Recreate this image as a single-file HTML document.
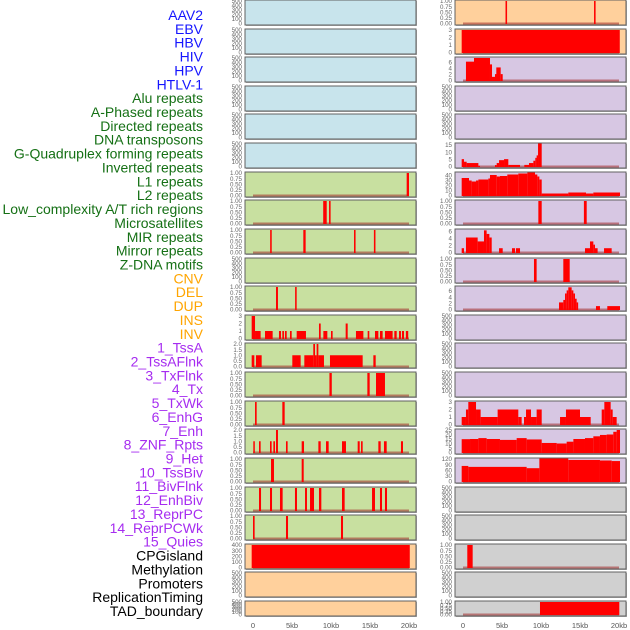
<!DOCTYPE html>
<html><head><meta charset="utf-8"><style>
html,body{margin:0;padding:0;background:#fff;}
svg{display:block;font-family:"Liberation Sans",sans-serif;}
</style></head><body>
<svg id="chart" width="630" height="630" viewBox="0 0 630 630" xmlns="http://www.w3.org/2000/svg"></svg>
<script>
// ---- labels ----
const trackLabels = ["AAV2","EBV","HBV","HIV","HPV","HTLV-1","Alu repeats","A-Phased repeats","Directed repeats","DNA transposons","G-Quadruplex forming repeats","Inverted repeats","L1 repeats","L2 repeats","Low_complexity A/T rich regions","Microsatellites","MIR repeats","Mirror repeats","Z-DNA motifs","CNV","DEL","DUP","INS","INV","1_TssA","2_TssAFlnk","3_TxFlnk","4_Tx","5_TxWk","6_EnhG","7_Enh","8_ZNF_Rpts","9_Het","10_TssBiv","11_BivFlnk","12_EnhBiv","13_ReprPC","14_ReprPCWk","15_Quies","CPGisland","Methylation","Promoters","ReplicationTiming","TAD_boundary"];
const labelGroups = [6,13,5,15,5];
const xTickLabels = ["0","5kb","10kb","15kb","20kb"];
const xTickValues = [0,5,10,15,20];

// ---- left column data [startKb, endKb, value] ----
const left6 = [[19.7,20.0,1]];
const left7 = [[9.0,9.45,1],[9.75,9.95,1]];
const left8 = [[2.2,2.4,1],[6.45,6.75,1],[12.95,13.15,1],[15.5,15.7,1]];
const left10 = [[2.95,3.2,1],[5.4,5.6,1]];
const left11 = [[-0.17,0.26,3],[0.26,0.98,1],[1.54,2.52,1],[3.33,3.59,1],[3.76,3.97,1],[4.1,4.32,1],[4.74,4.96,1],[5.6,6.79,1],[8.46,8.68,2],[9.02,9.53,1],[10.0,10.21,1],[11.88,12.14,2],[13.2,14.15,1],[14.7,14.91,1],[15.64,16.07,1],[16.28,16.62,1],[16.92,17.9,1],[18.12,18.42,1],[18.72,18.97,1],[19.1,19.36,1],[19.6,19.9,1]];
const left12 = [[-0.17,0.17,1],[0.38,1.11,1],[5.04,6.11,1],[6.58,7.73,1],[7.73,7.95,2],[7.95,8.16,1],[8.16,8.38,2],[8.38,9.1,1],[9.87,14.06,1],[15.43,15.73,1]];
const left13 = [[9.8,10.1,1],[14.66,14.96,1],[15.77,16.92,1]];
const left14 = [[0.26,0.47,1],[3.76,4.06,1]];
const left15 = [[0.04,0.21,1],[0.77,0.98,1],[2.18,2.39,1],[2.61,2.82,1],[2.95,3.2,2],[4.23,4.44,1],[6.24,6.54,1],[8.38,8.68,1],[9.36,9.7,1],[11.41,11.92,1],[13.42,13.68,1],[13.85,14.06,1],[16.07,16.37,1],[16.79,17.14,1],[18.97,19.23,1]];
const left16 = [[2.31,2.69,1],[6.24,6.5,1]];
const left17 = [[0.77,1.03,1],[2.18,2.44,1],[3.46,3.8,1],[5.38,5.64,1],[6.67,6.92,1],[7.31,7.82,1],[8.46,8.76,1],[11.41,11.75,1],[15.26,15.64,1],[16.28,16.54,1],[16.92,17.18,1]];
const left18 = [[0.0,0.21,1],[4.23,4.49,1],[11.28,11.54,1]];
const left19 = [[-0.17,20.1,400]];

// ---- right column data ----
const right0 = [[5.45,5.65,1],[16.8,17.0,1]];
const right1 = [[-0.17,20.1,3]];
const right2 = [[0.38,1.41,6.2],[1.41,3.46,7.4],[3.46,3.72,5.3],[3.72,4.1,1.2],[4.1,4.27,2.1],[4.27,4.83,4.3],[4.83,5.09,2.1]];
const right5 = [[-0.17,0.13,5.1],[0.13,0.47,3.3],[0.47,1.97,2.4],[1.97,2.18,0.5],[4.1,4.32,1],[4.32,4.62,2.4],[4.62,5.26,4.4],[5.26,5.81,5.1],[5.81,7.31,1.1],[7.86,8.46,1.1],[8.46,9.02,2.4],[9.02,9.27,4],[9.27,9.44,6],[9.44,9.62,7.7],[9.62,10.09,16]];
const right6 = [[-0.17,0.77,35],[0.77,1.11,30],[1.11,1.67,28],[1.67,1.97,30],[1.97,3.25,32],[3.25,3.46,34],[3.46,4.32,41],[4.32,4.74,38],[4.74,5.68,39],[5.68,7.09,42],[7.09,8.25,44],[8.25,9.23,46.5],[9.23,9.53,42],[9.53,9.79,38],[9.79,10.09,32],[10.09,13.5,4],[13.5,15.77,6],[15.77,16.71,4],[16.71,20.13,6]];
const right7 = [[9.66,10.09,1],[15.5,15.86,1]];
const right8 = [[-0.17,0.13,1.2],[0.38,1.88,4.2],[1.88,2.69,3.1],[2.69,3.03,6.2],[3.03,3.38,5.2],[3.38,3.68,4.2],[4.62,5.09,1.2],[6.28,6.67,1.2],[6.79,7.31,1.2],[15.64,16.28,1.2],[16.28,16.71,3.1],[16.71,16.92,2.2],[16.92,17.26,1.2],[18.08,19.06,1.2]];
const right9 = [[9.1,9.44,1],[12.86,13.68,1]];
const right10 = [[12.31,12.86,2.3],[12.86,13.08,3.1],[13.08,13.29,5.2],[13.29,13.5,6.2],[13.5,13.93,7.2],[13.93,14.15,6.2],[14.15,14.36,5.2],[14.36,14.57,3.5],[14.57,14.7,2.3],[17.05,17.56,1.1],[18.5,20.13,1.1]];
const right14 = [[-0.17,0.38,1],[0.38,0.68,2],[0.68,1.67,3],[1.67,2.26,2],[2.26,4.44,1],[4.44,7.09,2],[7.09,7.52,1],[7.82,8.08,1],[8.08,8.72,2],[8.72,9.44,1],[9.44,10.09,2],[12.44,13.2,1],[13.2,15.0,2],[15.0,16.37,1],[17.78,18.12,2],[18.12,18.93,3],[18.93,19.19,2],[19.19,19.7,1]];
const right15 = [[-0.17,0.9,14.8],[0.9,1.97,15],[1.97,3.03,16],[3.03,4.74,15],[4.74,6.88,14],[6.88,8.16,16],[8.16,10.09,14.5],[10.09,12.01,10.6],[12.01,13.29,10],[13.29,14.15,12],[14.15,15.64,15],[15.64,16.71,16],[16.71,17.56,18],[17.56,18.42,19.5],[18.42,19.27,20],[19.27,19.7,23],[19.7,20.13,25]];
const right16 = [[-0.17,0.68,83],[0.68,8.16,78],[8.16,9.79,71],[9.79,13.5,124],[13.5,17.56,115],[17.56,19.06,112],[19.06,20.13,109]];
const right19 = [[0.55,1.24,1]];
const right21 = [[9.87,20.04,1]];

const ticksEmpty = ["0","100","200","300","400","500"];
const ticksUnit = ["0.00","0.25","0.50","0.75","1.00"];
const ticks3 = ["0","1","2","3"];
const ticks2 = ["0.0","0.5","1.0","1.5","2.0"];
const ticks400 = ["0","100","200","300","400"];
const ticks6 = ["0","2","4","6"];
const ticks15 = ["0","5","10","15"];
const ticks40 = ["0","10","20","30","40"];
const ticks25 = ["0","5","10","15","20","25"];
const ticks120 = ["0","30","60","90","120"];

const svg = document.getElementById('chart');
const NS = "http://www.w3.org/2000/svg";
function mk(tag, attrs, parent){ const e=document.createElementNS(NS,tag); for(const k in attrs) e.setAttribute(k,attrs[k]); (parent||svg).appendChild(e); return e; }

// left labels
const groupColors = ["#1515ff","#157015","#ffa500","#a62cf0","#000000"];
let gi=0, gc=0;
trackLabels.forEach((lab,i)=>{
  while(gc>=labelGroups[gi]){gi++;gc=0;}
  gc++;
  const t = mk('text',{x:203,y:15+i*13.86+5,'text-anchor':'end','font-size':'14',fill:groupColors[gi]});
  t.textContent = lab;
  
  
});

const cols = [{x0:245,x1:416,z:253,t:409},{x0:455,x1:626,z:463,t:619}];
function rowTop(i){ return Math.round(i*28.62); }
function rowH(i){ return i===21?15:25; }
function bgColor(c,i){
  if(c===0){ return i<6?"#c8e4ec":(i<19?"#c8e0a0":"#ffd09c"); }
  return i<2?"#ffd09c":(i<17?"#d7c7e3":"#d0d0d0");
}
const leftData = {6:[left6,ticksUnit,1],7:[left7,ticksUnit,1],8:[left8,ticksUnit,1],10:[left10,ticksUnit,1],11:[left11,ticks3,3],12:[left12,ticks2,2],13:[left13,ticksUnit,1],14:[left14,ticksUnit,1],15:[left15,ticks2,2],16:[left16,ticksUnit,1],17:[left17,ticksUnit,1],18:[left18,ticksUnit,1],19:[left19,ticks400,400]};
const rightData = {0:[right0,ticksUnit,1],1:[right1,ticks3,3],2:[right2,ticks6,7.4],5:[right5,ticks15,15.6],6:[right6,ticks40,45],7:[right7,ticksUnit,1],8:[right8,ticks6,6.3],9:[right9,ticksUnit,1],10:[right10,ticks6,7.3],14:[right14,ticks3,3],15:[right15,ticks25,25],16:[right16,ticks120,120],19:[right19,ticksUnit,1],21:[right21,ticksUnit,1]};

[leftData,rightData].forEach((dmap,c)=>{
  const col = cols[c];
  const xs = kb => col.z + (kb/20)*(col.t-col.z);
  for(let i=0;i<22;i++){
    const T=rowTop(i), H=rowH(i), B=T+H;
    const g = mk('g',{});
    
    
    mk('rect',{x:col.x0+1,y:T+1,width:col.x1-col.x0,height:H,fill:"#b0b0b0"},g);
    mk('rect',{x:col.x0,y:T,width:col.x1-col.x0,height:H,fill:bgColor(c,i),stroke:"#606060","stroke-width":1},g);
    const d = dmap[i];
    const ticks = d?d[1]:ticksEmpty;
    const top = d?d[2]:500;
    const tmax = parseFloat(ticks[ticks.length-1]);
    const ys = v => (B-1.5) - (v/top)*(H-2.5);
    ticks.forEach(tl=>{
      const tv=parseFloat(tl);
      const tt = mk('text',{x:col.x0-3,y:ys(tv)+2.2,'text-anchor':'end','font-size':'6.2',fill:"#666"},g);
      tt.textContent = tl;
      
      
    });
    if(d){
      mk('line',{x1:xs(0),x2:xs(20),y1:B-1.5,y2:B-1.5,stroke:"rgba(160,40,40,0.55)","stroke-width":2},g);
      d[0].forEach(s=>{
        const xa=Math.max(col.x0+0.5,xs(s[0])), xb=Math.min(col.x1-0.5,xs(s[1]));
        const yv=Math.max(T+0.5,ys(s[2]));
        const r = mk('rect',{x:xa,y:yv,width:Math.max(1.5,xb-xa),height:(B-1)-yv,fill:"#ff0000"},g);
        
        
      });
    }
  }
  xTickValues.forEach((v,k)=>{
    const t = mk('text',{x:xs(v),y:628,'text-anchor':'middle','font-size':'7.5',fill:"#555"});
    t.textContent = xTickLabels[k];
    
    
  });
});
</script>
</body></html>
